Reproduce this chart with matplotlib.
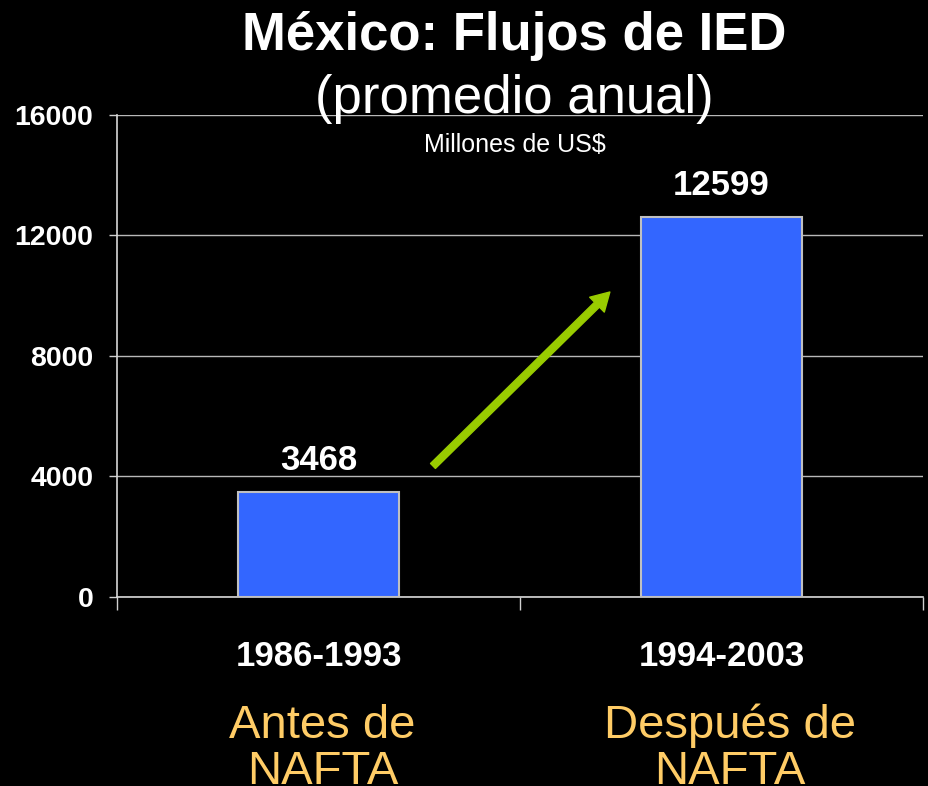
import numpy as np
import matplotlib
matplotlib.use("Agg")
import matplotlib.pyplot as plt
from matplotlib.patches import FancyArrowPatch
from matplotlib.transforms import blended_transform_factory

# data
periods = ["1986-1993", "1994-2003"]
ied_avg = [3468, 12599]
eras = [("Antes de", "NAFTA"), ("Después de", "NAFTA")]
y_ticks = [0, 4000, 8000, 12000, 16000]

plt.rcParams['font.family'] = ['Liberation Sans', 'DejaVu Sans']

fig = plt.figure(figsize=(9.29, 7.86), dpi=100, facecolor="black")
ax = fig.add_axes([0.126, 0.2405, 0.8675, 0.6132], facecolor="black")

x = np.arange(len(periods))
bars = ax.bar(x, ied_avg, width=0.40, color="#3366FF", edgecolor="#C0C0C0",
              linewidth=1.5, zorder=3)

ax.set_xlim(-0.5, 1.5)
ax.set_ylim(0, 16000)
ax.set_yticks(y_ticks)
ax.set_yticklabels([str(v) for v in y_ticks], fontsize=20.5, fontweight="bold", color="white")
ax.yaxis.grid(True, color="#B8B8B8", linewidth=1, zorder=0)
ax.tick_params(axis="y", length=6, width=1, color="#D0D0D0", pad=11)

ax.set_xticks(x)
ax.set_xticklabels(periods, fontsize=25, fontweight="bold", color="white")
ax.tick_params(axis="x", which="major", length=0, pad=31)
ax.set_xticks([-0.5, 0.5, 1.5], minor=True)
ax.tick_params(axis="x", which="minor", length=9, width=1, color="#D0D0D0")

for side in ["top", "right"]:
    ax.spines[side].set_visible(False)
for side in ["left", "bottom"]:
    ax.spines[side].set_color("#D8D8D8")
    ax.spines[side].set_linewidth(1.2)

# value labels over the bars
for b, v in zip(bars, ied_avg):
    ax.annotate(str(v), (b.get_x() + b.get_width() / 2, v),
                xytext=(0, 16), textcoords="offset points",
                ha="center", va="baseline", fontsize=25, fontweight="bold",
                color="white")

# green growth arrow
arrow = FancyArrowPatch((0.284, 4349), (0.723, 10124),
                        arrowstyle="simple,tail_width=5,head_width=15,head_length=13",
                        color="#99CC00", shrinkA=0, shrinkB=0, zorder=4)
ax.add_patch(arrow)

# titles
fig.text(0.554, 0.9364, "México: Flujos de IED", ha="center", va="baseline",
         fontsize=38, fontweight="bold", color="white")
fig.text(0.554, 0.8562, "(promedio anual)", ha="center", va="baseline",
         fontsize=38, color="white")
fig.text(0.554, 0.8066, "Millones de US$", ha="center", va="baseline",
         fontsize=18, color="white")

# era labels under the categories
tr = blended_transform_factory(ax.transData, fig.transFigure)
for i, (l1, l2) in enumerate(eras):
    ax.text(i + 0.01 + 0.01 * i, 0.0611, l1, transform=tr, ha="center", va="baseline",
            fontsize=34, color="#FFCC66", clip_on=False)
    ax.text(i + 0.01 + 0.01 * i, 0.0025, l2, transform=tr, ha="center", va="baseline",
            fontsize=34, color="#FFCC66", clip_on=False)

fig.savefig("out.png", dpi=100, facecolor="black")
